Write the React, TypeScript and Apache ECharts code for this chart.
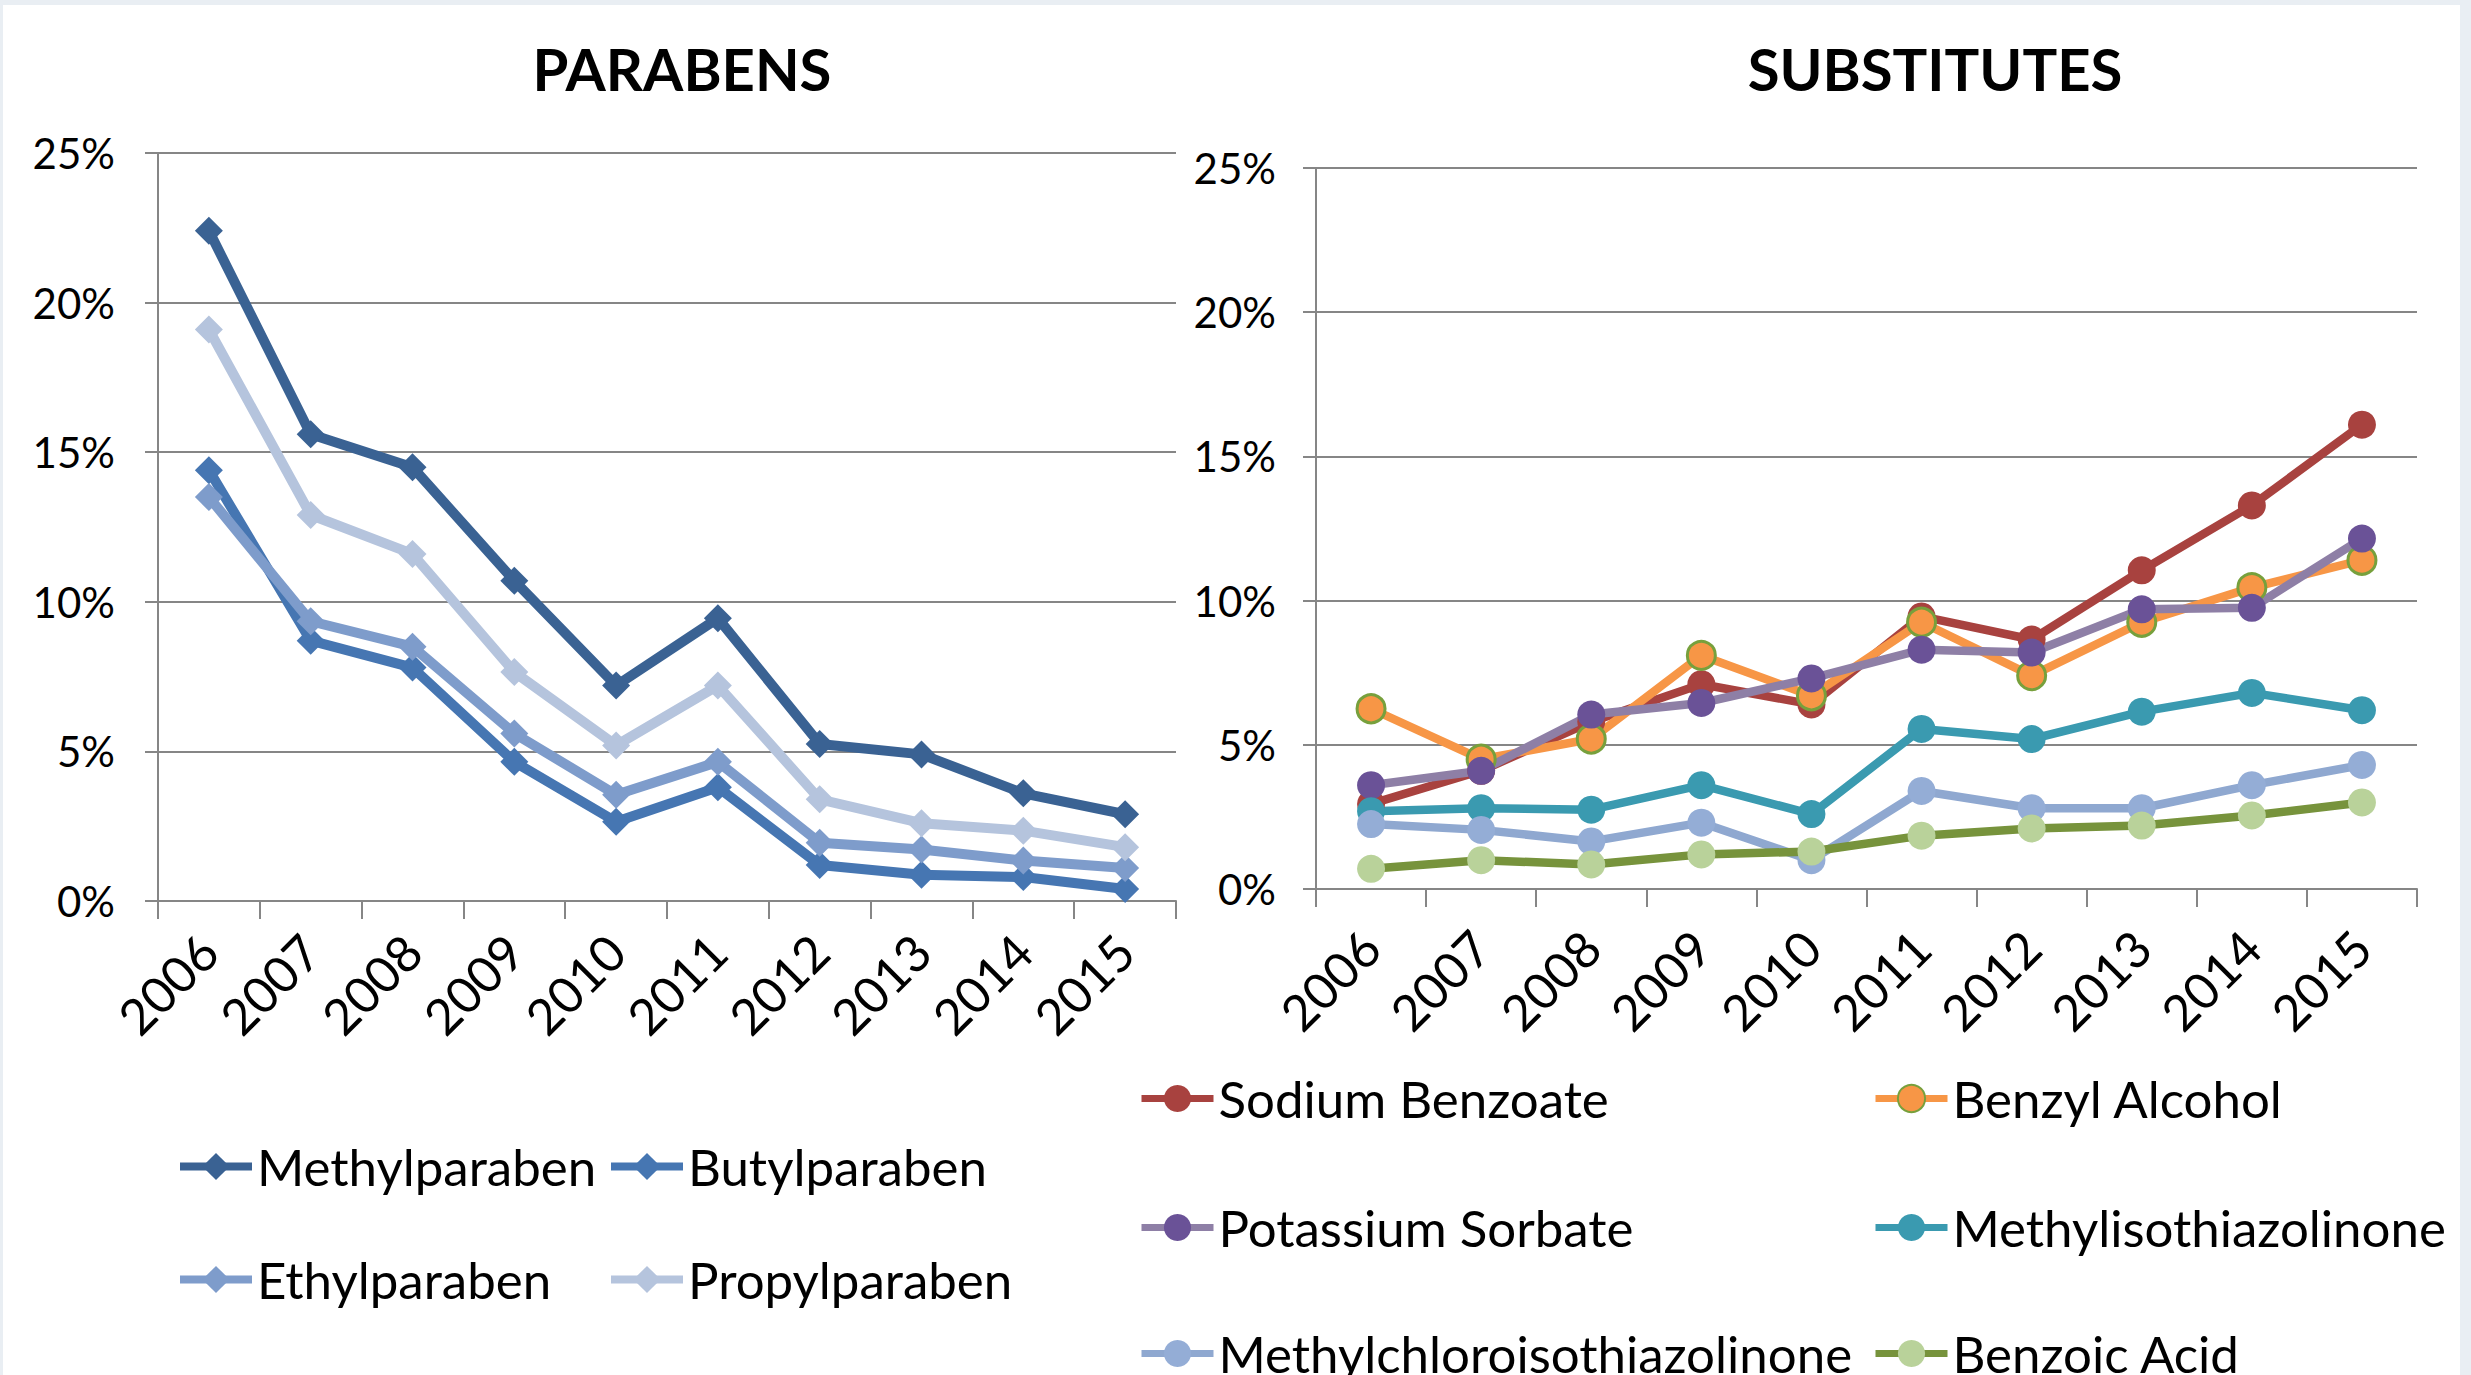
import React, { useEffect, useRef } from "react";
import * as echarts from "echarts";

const years = ["2006", "2007", "2008", "2009", "2010", "2011", "2012", "2013", "2014", "2015"];
const yTicks = [0, 5, 10, 15, 20, 25];

const methylparaben = [22.4, 15.6, 14.5, 10.7, 7.2, 9.45, 5.25, 4.9, 3.6, 2.9];
const butylparaben = [14.4, 8.7, 7.8, 4.65, 2.65, 3.8, 1.2, 0.88, 0.8, 0.4];
const ethylparaben = [13.5, 9.35, 8.5, 5.6, 3.55, 4.65, 1.95, 1.72, 1.35, 1.1];
const propylparaben = [19.1, 12.9, 11.6, 7.65, 5.2, 7.2, 3.4, 2.6, 2.35, 1.8];

const sodiumBenzoate = [2.95, 4.1, 5.8, 7.1, 6.4, 9.45, 8.65, 11.05, 13.3, 16.1];
const benzylAlcohol = [6.25, 4.5, 5.2, 8.1, 6.7, 9.25, 7.4, 9.25, 10.45, 11.4];
const potassiumSorbate = [3.6, 4.1, 6.05, 6.45, 7.3, 8.3, 8.2, 9.7, 9.75, 12.15];
const methylisothiazolinone = [2.7, 2.8, 2.75, 3.6, 2.6, 5.55, 5.2, 6.15, 6.8, 6.2];
const methylchloroisothiazolinone = [2.25, 2.05, 1.65, 2.3, 1.0, 3.4, 2.8, 2.8, 3.6, 4.3];
const benzoicAcid = [0.7, 1.0, 0.85, 1.2, 1.3, 1.85, 2.1, 2.2, 2.55, 3.0];

const FONT = "Lato";
const GRAY = "#868686";

export default function App() {
  const ref = useRef<HTMLDivElement>(null);
  useEffect(() => {
    document.body.style.margin = "0";
    if (!ref.current) return;
    const chart = echarts.init(ref.current, null, { renderer: "svg" });

    const xAxisBase = (gridIndex: number, margin: number) => ({
      type: "category",
      gridIndex,
      data: years,
      boundaryGap: true,
      axisLine: { show: true, lineStyle: { color: GRAY, width: 2 } },
      axisTick: { show: true, length: 18, lineStyle: { color: GRAY, width: 2 } },
      axisLabel: { rotate: 45, margin, color: "#000", fontFamily: FONT, fontSize: 50, interval: 0 },
      splitLine: { show: false },
    });
    const yAxisBase = (gridIndex: number, margin: number) => ({
      type: "value",
      gridIndex,
      min: yTicks[0],
      max: yTicks[yTicks.length - 1],
      interval: 5,
      axisLine: { show: true, lineStyle: { color: GRAY, width: 2 } },
      axisTick: { show: true, length: 13, lineStyle: { color: GRAY, width: 2 } },
      axisLabel: { margin, color: "#000", fontFamily: FONT, fontSize: 42, formatter: "{value}%" },
      splitLine: { show: true, lineStyle: { color: GRAY, width: 2 } },
    });

    const leftSeries = [
      { name: "Methylparaben", data: methylparaben, color: "#3A6293" },
      { name: "Butylparaben", data: butylparaben, color: "#4676B2" },
      { name: "Ethylparaben", data: ethylparaben, color: "#7E9CCB" },
      { name: "Propylparaben", data: propylparaben, color: "#B5C4DD" },
    ];
    const rightSeries = [
      { name: "Sodium Benzoate", data: sodiumBenzoate, color: "#A8423F", marker: "#A8423F", border: null },
      { name: "Benzyl Alcohol", data: benzylAlcohol, color: "#F79646", marker: "#F79646", border: "#77A03C" },
      { name: "Potassium Sorbate", data: potassiumSorbate, color: "#8E7FA6", marker: "#6A5297", border: null },
      { name: "Methylisothiazolinone", data: methylisothiazolinone, color: "#3A9AB0", marker: "#3A9AB0", border: null },
      { name: "Methylchloroisothiazolinone", data: methylchloroisothiazolinone, color: "#8FA8D0", marker: "#94ADD6", border: null },
      { name: "Benzoic Acid", data: benzoicAcid, color: "#77933C", marker: "#B9D29A", border: null },
    ];

    const series: any[] = [];
    leftSeries.forEach((s) => {
      series.push({
        type: "line",
        name: s.name,
        xAxisIndex: 0,
        yAxisIndex: 0,
        data: s.data,
        symbol: "diamond",
        symbolSize: 28,
        lineStyle: { color: s.color, width: 10 },
        itemStyle: { color: s.color },
      });
    });
    rightSeries.forEach((s) => {
      series.push({
        type: "line",
        name: s.name,
        xAxisIndex: 1,
        yAxisIndex: 1,
        data: s.data,
        symbol: "circle",
        symbolSize: 28,
        lineStyle: { color: s.color, width: 8.5 },
        itemStyle: s.border
          ? { color: s.marker, borderColor: s.border, borderWidth: 3 }
          : { color: s.marker },
      });
    });

    const legendText = { fontFamily: FONT, fontSize: 51, color: "#000", padding: [0, 0, 0, 0] };
    const IH = 34;
    const legendAt = (name: string, left: number, centerY: number, lw: number) => ({
      data: [name],
      left,
      top: centerY - IH / 2 - 10,
      itemWidth: 72,
      itemHeight: IH,
      itemGap: 0,
      padding: 0,
      textStyle: legendText,
      lineStyle: { width: lw },
      selectedMode: false,
    });

    chart.setOption({
      animation: false,
      backgroundColor: "transparent",
      grid: [
        { left: 158, top: 153, width: 1018, height: 748 },
        { left: 1316, top: 168, width: 1101, height: 721 },
      ],
      xAxis: [xAxisBase(0, 42), xAxisBase(1, 50)],
      yAxis: [yAxisBase(0, 43), yAxisBase(1, 40)],
      legend: [
        legendAt("Methylparaben", 176, 1168, 8),
        legendAt("Butylparaben", 607, 1168, 8),
        legendAt("Ethylparaben", 176, 1281, 8),
        legendAt("Propylparaben", 607, 1281, 8),
        legendAt("Sodium Benzoate", 1138, 1100, 7),
        legendAt("Benzyl Alcohol", 1872, 1100, 7),
        legendAt("Potassium Sorbate", 1138, 1229, 7),
        legendAt("Methylisothiazolinone", 1872, 1229, 7),
        legendAt("Methylchloroisothiazolinone", 1138, 1355, 7),
        legendAt("Benzoic Acid", 1872, 1355, 7),
      ],
      graphic: [
        {
          type: "text",
          x: 682,
          y: 68,
          style: {
            text: "PARABENS",
            font: `bold 58px ${FONT}`,
            fill: "#000",
            textAlign: "center",
            textVerticalAlign: "middle",
            verticalAlign: "middle",
          },
        },
        {
          type: "text",
          x: 1935,
          y: 68,
          style: {
            text: "SUBSTITUTES",
            font: `bold 58px ${FONT}`,
            fill: "#000",
            textAlign: "center",
            textVerticalAlign: "middle",
            verticalAlign: "middle",
          },
        },
      ],
      series,
    });
    return () => chart.dispose();
  }, []);

  return (
    <div style={{ position: "relative", width: 2471, height: 1375, background: "#e9eef3", overflow: "hidden" }}>
      <div style={{ position: "absolute", left: 3, top: 5, width: 2457, height: 1370, background: "#ffffff" }} />
      <div ref={ref} style={{ position: "absolute", left: 0, top: 0, width: 2471, height: 1375 }} />
    </div>
  );
}
